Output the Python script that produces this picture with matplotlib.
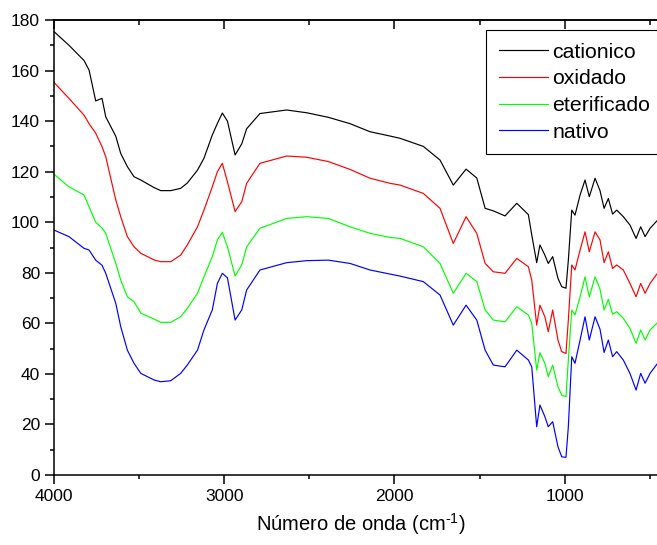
import matplotlib
matplotlib.use("Agg")
import matplotlib.pyplot as plt
from matplotlib.ticker import MultipleLocator

plt.rcParams["font.family"] = ["Liberation Sans", "DejaVu Sans"]
plt.rcParams["mathtext.fontset"] = "custom"
plt.rcParams["mathtext.rm"] = "Liberation Sans"

# wavenumber grid (cm-1)
wn = [4000, 3912, 3824, 3794, 3755, 3718, 3696, 3637, 3608, 3569, 3530, 3490,
      3412, 3373, 3314, 3256, 3217, 3157, 3119, 3070, 3040, 3011, 2981, 2936,
      2897, 2868, 2790, 2633, 2515, 2388, 2261, 2143, 2026, 1967, 1830, 1732,
      1654, 1579, 1516, 1467, 1419, 1350, 1281, 1213, 1193, 1164, 1145, 1116,
      1096, 1070, 1039, 1017, 992, 978, 958, 939, 909, 880, 855, 821,
      792, 768, 743, 718, 694, 655, 616, 580, 553, 527, 498, 458]

cationico = [175.4, 170, 164, 160.2, 148, 149, 141.7, 134, 127.2, 122, 118, 116.7,
             113.7, 112.5, 112.5, 113.4, 115.5, 120.6, 125.3, 134.5, 139.1, 143.2, 140, 126.6,
             131, 137, 143, 144.4, 143.3, 141.5, 139, 135.8, 134.1, 133.2, 130, 124.6,
             114.7, 121, 117.5, 105.5, 104.5, 102.5, 107.5, 103, 95, 84, 91, 87,
             83.7, 86.4, 77.8, 74.5, 73.9, 85, 104.8, 102.8, 110.8, 116.7, 110.1, 117.4,
             112.5, 105.5, 109.4, 103.2, 104.8, 102.2, 98.9, 93.6, 98.2, 94.3, 97.6, 100.5]

oxidado = [155.3, 149, 142.4, 139, 135.2, 129.9, 125.9, 108.8, 102.2, 94.3, 90.3, 87.7,
           85.1, 84.4, 84.4, 87, 91, 98.2, 104.8, 114, 120, 123.3, 116, 104.2,
           108.1, 115.4, 123.3, 126.2, 125.7, 124, 120.9, 117.4, 115.4, 114.7, 111.4, 105.5,
           91.6, 102.2, 95.6, 83.7, 80.4, 79.8, 85.7, 82.4, 77.1, 59.3, 67.2, 62.6,
           56.7, 65.3, 53.4, 48.8, 48.1, 61.3, 83.1, 81.1, 89, 96.2, 88.3, 96.2,
           93, 84, 88.3, 81.7, 83.1, 81.1, 75.8, 70.5, 75.8, 71.9, 75.8, 79.5]

eterificado = [119, 114, 110.8, 106.1, 100, 97.7, 95.6, 83.7, 77.1, 70.5, 68.6, 64,
               61.7, 60.4, 60.4, 62.6, 65.9, 71.9, 78.4, 86.4, 93, 96, 90.3, 78.7,
               83.1, 90.3, 97.6, 101.5, 102.2, 101.5, 98.2, 95.6, 94, 93.6, 90.3, 83.7,
               71.9, 79.8, 76.5, 65.3, 61.3, 60.6, 66.6, 63.3, 60, 41.5, 48.4, 44.2,
               38.9, 43.5, 34.9, 31.6, 31, 45.5, 65.3, 63.3, 70.5, 78.4, 70.5, 78.4,
               73.5, 65.3, 69.5, 63.6, 64.6, 62, 58, 52.1, 57.4, 53.4, 57.4, 60]

nativo = [96.9, 94.3, 89.7, 89, 85, 83, 79.8, 67.9, 58.7, 49.4, 44.2, 40.2,
          37.6, 36.9, 37.3, 40.2, 43.5, 49.4, 57.4, 65.3, 75.8, 79.8, 78, 61.3,
          65.3, 73.2, 81.1, 84, 84.8, 85, 83.7, 81.1, 79.5, 78.7, 76.5, 71.2,
          59.3, 67.2, 61.3, 49.4, 43.5, 42.8, 49.4, 45.5, 42.8, 19.1, 27.7, 23.1,
          19.1, 21.1, 11.2, 7.2, 7.0, 19.1, 46.8, 44.2, 53.4, 62.6, 53.4, 62.6,
          57.7, 48.5, 53.4, 46.8, 48.8, 45.5, 40.2, 33.6, 40.2, 36.3, 40.2, 43.8]

series = [("cationico", cationico, "black"), ("oxidado", oxidado, "#ff0000"),
          ("eterificado", eterificado, "#00ff00"), ("nativo", nativo, "#0000ff")]

fig = plt.figure(figsize=(6.57, 5.45), dpi=100)
ax = fig.add_axes([0.0822, 0.1284, 0.9326, 0.8349])

for name, vals, c in series:
    ax.plot(wn, vals, color=c, lw=0.85, label=name)

ax.set_xlim(4000, 400)
ax.set_ylim(0, 180)
ax.xaxis.set_major_locator(MultipleLocator(1000))
ax.xaxis.set_minor_locator(MultipleLocator(500))
ax.yaxis.set_major_locator(MultipleLocator(20))
ax.yaxis.set_minor_locator(MultipleLocator(10))
ax.tick_params(which="major", direction="out", length=6.5, width=1.1, labelsize=12.5)
ax.tick_params(which="minor", direction="out", length=3.2, width=1.1)
for s in ax.spines.values():
    s.set_linewidth(1.1)

top = ax.secondary_xaxis("top")
top.xaxis.set_major_locator(MultipleLocator(1000))
top.xaxis.set_minor_locator(MultipleLocator(500))
top.tick_params(which="major", direction="in", length=6.5, width=1.1, labeltop=False)
top.tick_params(which="minor", direction="in", length=3.5, width=1.1)
top.spines["top"].set_linewidth(1.1)

ax.set_xlabel(r"Número de onda (cm$^{\text{-1}}$)", fontsize=14.5, labelpad=5)

leg = ax.legend(loc="upper left", bbox_to_anchor=(0.705, 0.978), borderaxespad=0,
                fontsize=15.3, handlelength=2.3, handletextpad=0.22,
                labelspacing=0.36, fancybox=False, framealpha=1, borderpad=0.6)
leg.get_frame().set_edgecolor("black")
leg.get_frame().set_linewidth(0.8)

fig.savefig("out.png", dpi=100)
